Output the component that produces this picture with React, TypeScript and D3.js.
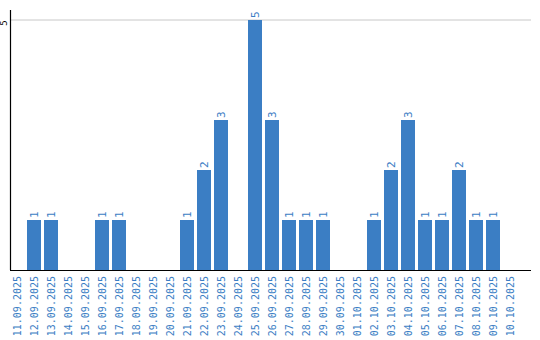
import React from "react";
import * as d3 from "d3";

const categories = [
  "11.09.2025", "12.09.2025", "13.09.2025", "14.09.2025", "15.09.2025",
  "16.09.2025", "17.09.2025", "18.09.2025", "19.09.2025", "20.09.2025",
  "21.09.2025", "22.09.2025", "23.09.2025", "24.09.2025", "25.09.2025",
  "26.09.2025", "27.09.2025", "28.09.2025", "29.09.2025", "30.09.2025",
  "01.10.2025", "02.10.2025", "03.10.2025", "04.10.2025", "05.10.2025",
  "06.10.2025", "07.10.2025", "08.10.2025", "09.10.2025", "10.10.2025",
];
const values = [0, 1, 1, 0, 0, 1, 1, 0, 0, 0, 1, 2, 3, 0, 5, 3, 1, 1, 1, 0, 0, 1, 2, 3, 1, 1, 2, 1, 1, 0];
const yTicks = [5];

const W = 540;
const H = 340;
const BLUE = "#3b7ec4";
const FONT = "'DejaVu Sans Mono', monospace";

export default function App() {
  const x = d3.scaleBand<string>().domain(categories).range([10, 520]).padding(0);
  const y = d3.scaleLinear().domain([0, 5]).range([270, 20]);
  const bw = x.bandwidth() - 3;

  return (
    <svg
      width={W}
      height={H}
      style={{ position: "absolute", left: 0, top: 0, background: "#fff" }}
    >
      {yTicks.map((t) => (
        <g key={t}>
          <line x1={11} x2={531} y1={y(t)} y2={y(t)} stroke="#c8c8c8" strokeWidth={1} />
          <text
            transform={`translate(7,${y(t) + 3}) rotate(-90)`}
            textAnchor="middle"
            fontFamily={FONT}
            fontSize={9}
            fill="#000"
          >
            {t}
          </text>
        </g>
      ))}
      {categories.map((c, i) =>
        values[i] > 0 ? (
          <g key={c}>
            <rect x={x(c)!} y={y(values[i])} width={bw} height={y(0) - y(values[i])} fill={BLUE} />
            <text
              transform={`translate(${x(c)! + bw / 2 + 4},${y(values[i]) - 2}) rotate(-90)`}
              textAnchor="start"
              fontFamily={FONT}
              fontSize={11}
              fill={BLUE}
            >
              {values[i]}
            </text>
          </g>
        ) : null
      )}
      <line x1={10.5} x2={10.5} y1={10} y2={270} stroke="#000" strokeWidth={1.2} />
      <line x1={10} x2={531} y1={270.5} y2={270.5} stroke="#000" strokeWidth={1.2} />
      {categories.map((c) => (
        <text
          key={"l" + c}
          transform={`translate(${x(c)! + bw / 2 + 3.5},${276}) rotate(-90)`}
          textAnchor="end"
          fontFamily={FONT}
          fontSize={10}
          fill={BLUE}
        >
          {c}
        </text>
      ))}
    </svg>
  );
}
